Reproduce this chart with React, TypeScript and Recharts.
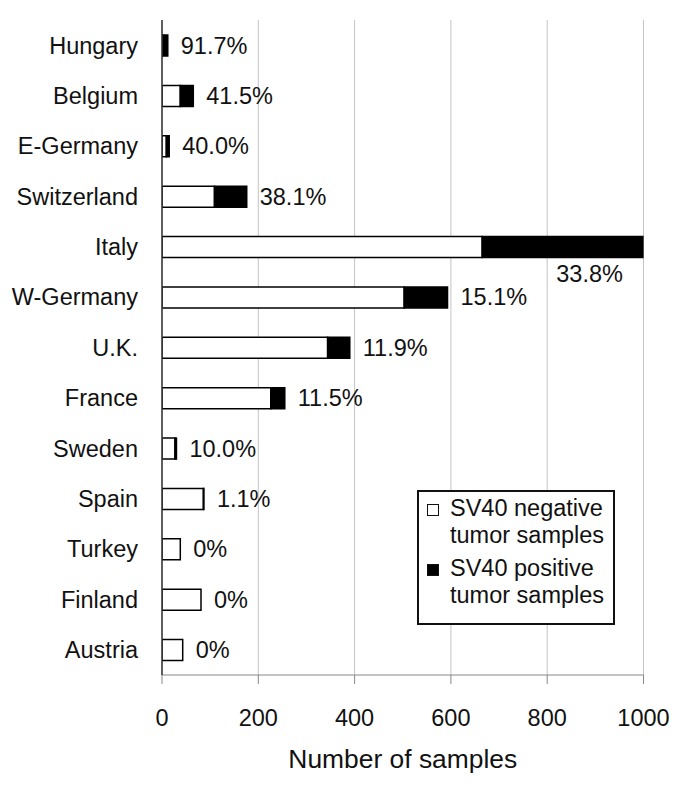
import { BarChart, Bar, XAxis, YAxis, CartesianGrid, Legend, LabelList } from "recharts";

const countries = [
  "Hungary",
  "Belgium",
  "E-Germany",
  "Switzerland",
  "Italy",
  "W-Germany",
  "U.K.",
  "France",
  "Sweden",
  "Spain",
  "Turkey",
  "Finland",
  "Austria",
];
const negative = [1, 38, 9, 109, 665, 503, 344, 226, 27, 86, 38, 81, 43];
const positive = [11, 27, 6, 67, 340, 90, 46, 29, 3, 1, 0, 0, 0];
const pctLabels = [
  "91.7%", "41.5%", "40.0%", "38.1%", "33.8%", "15.1%", "11.9%",
  "11.5%", "10.0%", "1.1%", "0%", "0%", "0%",
];
const xTicks = [0, 200, 400, 600, 800, 1000];

const data = countries.map((country, i) => ({
  country,
  negative: negative[i],
  positive: positive[i],
  pct: pctLabels[i],
}));

const W = 685;
const H = 799;
const FONT = "'Liberation Sans', Arial, sans-serif";
const FS = 23.5;

// drawn from the negative segment (always non-zero), scaled out to the stack end
function PctLabel(props: any) {
  const x = Number(props.x);
  const y = Number(props.y);
  const w = Number(props.width);
  const h = Number(props.height);
  const i = Number(props.index);
  const perUnit = w / negative[i];
  const end = x + perUnit * (negative[i] + positive[i]);
  // labels that would run off the right edge go under the bar
  if (end + 13 + 75 > W) {
    return (
      <text x={end - 23} y={y + h + 16} textAnchor="end" dominantBaseline="central"
        fontSize={FS} fontFamily={FONT} fill="#111">
        {pctLabels[i]}
      </text>
    );
  }
  return (
    <text x={end + 13} y={y + h / 2} textAnchor="start" dominantBaseline="central"
      fontSize={FS} fontFamily={FONT} fill="#111">
      {pctLabels[i]}
    </text>
  );
}

function LegendBox(props: any) {
  const items = props.payload || [];
  return (
    <div
      style={{
        border: "2px solid #111",
        background: "#fff",
        padding: "3px 8px 14px 8px",
        fontFamily: FONT,
        fontSize: FS,
        lineHeight: "27px",
        color: "#111",
        boxSizing: "border-box",
        width: 198,
      }}
    >
      {items.map((it: any, i: number) => (
        <div key={it.value} style={{ display: "flex", alignItems: "flex-start", marginTop: i ? 6 : 0 }}>
          <span
            style={{
              display: "inline-block",
              width: 10,
              height: 10,
              marginTop: 9,
              marginRight: 11,
              border: "1.5px solid #111",
              background: it.payload?.fill ?? it.color,
              flex: "none",
            }}
          />
          <span style={{ width: 160, textAlign: "left" }}>{it.value}</span>
        </div>
      ))}
    </div>
  );
}

export default function App() {
  return (
    <div style={{ position: "absolute", left: 0, top: 0, width: W, height: H, background: "#fff" }}>
      <BarChart
        width={W}
        height={H}
        data={data}
        layout="vertical"
        barSize={21}
        margin={{ top: 20, right: 41.5, left: 0, bottom: 24 }}
      >
        <CartesianGrid vertical horizontal={false} stroke="#c4c4c4" />
        <XAxis
          type="number"
          domain={[0, 1000]}
          allowDataOverflow
          ticks={xTicks}
          height={100}
          tickSize={9}
          tickMargin={25}
          stroke="#888"
          tick={{ fontSize: FS, fontFamily: FONT, fill: "#111" }}
          label={{
            value: "Number of samples",
            position: "insideBottom",
            offset: 7,
            fontSize: 26.4,
            fontFamily: FONT,
            fill: "#111",
          }}
        />
        <YAxis
          type="category"
          dataKey="country"
          width={162}
          tickLine={false}
          tickSize={0}
          tickMargin={24}
          axisLine={{ stroke: "#333", strokeWidth: 1.5 }}
          tick={{ fontSize: FS, fontFamily: FONT, fill: "#111" }}
          interval={0}
        />
        <Legend
          content={<LegendBox />}
          layout="vertical"
          align="center"
          verticalAlign="middle"
          wrapperStyle={{ position: "absolute", left: 417, top: 490, width: 198 }}
        />
        <Bar
          dataKey="negative"
          name="SV40 negative tumor samples"
          stackId="s"
          fill="#ffffff"
          stroke="#000"
          strokeWidth={1.5}
          isAnimationActive={false}
        >
          <LabelList dataKey="pct" content={<PctLabel />} />
        </Bar>
        <Bar
          dataKey="positive"
          name="SV40 positive tumor samples"
          stackId="s"
          fill="#000000"
          stroke="#000"
          strokeWidth={1.5}
          isAnimationActive={false}
        />
      </BarChart>
    </div>
  );
}
